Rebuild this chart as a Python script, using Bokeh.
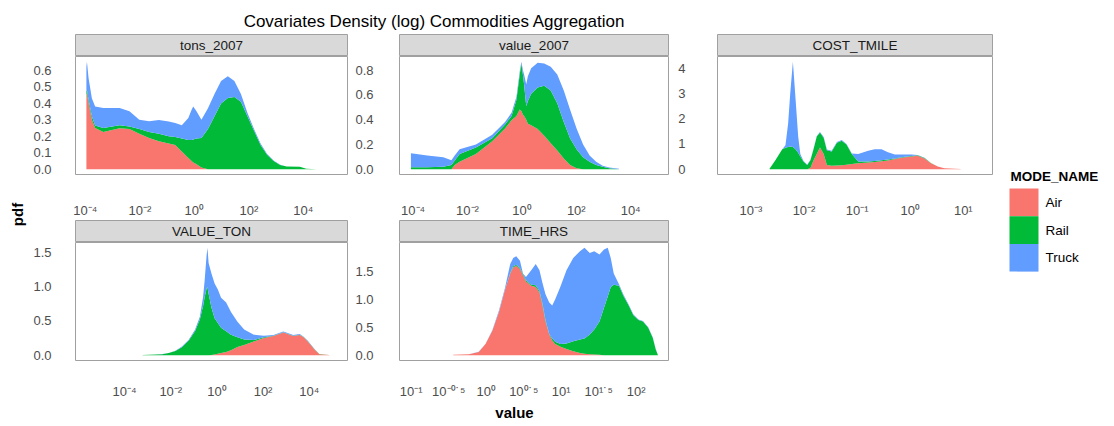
import math
from bokeh.plotting import figure
from bokeh.models import ColumnDataSource, Range1d, FixedTicker, PrintfTickFormatter, Label, Spacer
from bokeh.layouts import row, column
from bokeh.embed import file_html
from bokeh.resources import INLINE
from bokeh.core.properties import value

# ---------------- data (x in log10 units, y = density per mode, stacked) ----------------
MODES = ["Air", "Rail", "Truck"]
COLORS = ["#F8766D", "#00BA38", "#619CFF"]
TITLE = "Covariates Density (log) Commodities Aggregation"
FACETS = ["tons_2007", "value_2007", "COST_TMILE", "VALUE_TON", "TIME_HRS"]

tons_x = [-3.96, -3.94, -3.88, -3.76, -3.64, -3.34, -2.74, -2.38, -2.02, -1.66, -1.30, -0.94,
          -0.70, -0.46, -0.22, -0.10, -0.04, 0.08, 0.26, 0.50, 0.74, 0.98, 1.23, 1.47, 1.71,
          1.95, 2.19, 2.43, 2.67, 2.91, 3.15, 3.39, 3.87, 4.11, 4.50]
tons_air = [0.456, 0.456, 0.40, 0.30, 0.25, 0.225, 0.247, 0.243, 0.214, 0.188, 0.169, 0.155,
            0.146, 0.107, 0.068, 0.05, 0.04, 0.029, 0.01, 0, 0, 0, 0, 0, 0,
            0, 0, 0, 0, 0, 0, 0, 0, 0, 0]
tons_rail = [0.014, 0.024, 0.02, 0.02, 0.015, 0.025, 0.019, 0.015, 0.029, 0.037, 0.045, 0.045,
             0.049, 0.078, 0.109, 0.126, 0.14, 0.156, 0.178, 0.243, 0.32, 0.398, 0.431, 0.437, 0.408,
             0.32, 0.233, 0.146, 0.087, 0.049, 0.025, 0.016, 0.014, 0.003, 0]
tons_truck = [0.15, 0.17, 0.13, 0.11, 0.115, 0.12, 0.104, 0.092, 0.057, 0.065, 0.083, 0.088,
              0.085, 0.081, 0.133, 0.184, 0.199, 0.165, 0.112, 0.126, 0.136, 0.136, 0.132, 0.097, 0.048,
              0.02, 0.01, 0.009, 0.004, 0.003, 0.001, 0, 0, 0, 0]

val_x = [-4.08, -3.48, -2.89, -2.59, -2.47, -2.29, -1.69, -1.09, -0.62, -0.38, -0.20, -0.08,
         -0.02, 0.04, 0.08, 0.16, 0.22, 0.34, 0.58, 0.82, 1.06, 1.30, 1.54, 1.77, 2.01, 2.25,
         2.49, 2.73, 2.97, 3.21, 3.57]
val_air = [0, 0, 0, 0, 0.033, 0.059, 0.123, 0.226, 0.328, 0.395, 0.43, 0.482,
           0.47, 0.44, 0.43, 0.40, 0.367, 0.355, 0.325, 0.27, 0.21, 0.15, 0.085, 0.033, 0.008, 0,
           0, 0, 0, 0, 0]
val_rail = [0.015, 0.015, 0.02, 0.033, 0.037, 0.064, 0.051, 0.024, 0.032, 0.035, 0.13, 0.282,
            0.384, 0.32, 0.257, 0.108, 0.183, 0.255, 0.335, 0.404, 0.426, 0.383, 0.295, 0.217, 0.152, 0.097,
            0.059, 0.033, 0.02, 0.008, 0]
val_truck = [0.113, 0.095, 0.077, 0.039, 0.04, 0.037, 0.026, 0.027, 0.02, 0.026, 0.025, 0.026,
             0.013, 0.04, 0.077, 0.179, 0.2, 0.205, 0.2, 0.18, 0.192, 0.231, 0.256, 0.232, 0.168, 0.103,
             0.051, 0.026, 0.008, 0.005, 0.003]

cost_x = [-2.65, -2.54, -2.41, -2.35, -2.30, -2.26, -2.21, -2.16, -2.11, -2.07, -2.01, -1.94,
          -1.88, -1.82, -1.76, -1.70, -1.63, -1.57, -1.48, -1.38, -1.29, -1.20, -1.10, -0.98,
          -0.79, -0.67, -0.54, -0.42, -0.29, -0.17, 0.02, 0.14, 0.27, 0.39, 0.52, 0.64, 0.95]
cost_air = [0, 0, 0, 0, 0, 0, 0, 0, 0, 0, 0, 0,
            0.05, 0.35, 0.6, 0.86, 0.6, 0.16, 0.13, 0.14, 0.15, 0.17, 0.2, 0.23,
            0.26, 0.28, 0.31, 0.34, 0.4, 0.45, 0.5, 0.53, 0.42, 0.23, 0.1, 0.04, 0.01]
cost_rail = [0.02, 0.35, 0.79, 0.85, 0.88, 0.9, 0.88, 0.79, 0.65, 0.5, 0.3, 0.16,
             0.30, 0.45, 0.70, 0.59, 0.65, 0.59, 0.57, 0.91, 0.98, 0.81, 0.40, 0.07,
             0.04, 0.04, 0.04, 0.04, 0.02, 0.02, 0.02, 0.02, 0.02, 0.01, 0, 0, 0]
cost_truck = [0, 0, 0, 0.10, 0.92, 2.1, 3.38, 2.01, 0.65, 0.10, 0.02, 0.02,
              0.01, 0.02, 0.02, 0.02, 0.03, 0.03, 0.03, 0.03, 0.03, 0.02, 0.02, 0.30,
              0.43, 0.47, 0.44, 0.29, 0.16, 0.11, 0.06, 0.01, 0.01, 0, 0, 0, 0]

vton_x = [-3.22, -2.65, -2.37, -2.09, -1.80, -1.52, -1.23, -0.95, -0.74, -0.60, -0.53, -0.45,
          -0.41, -0.36, -0.24, -0.10, 0.04, 0.18, 0.40, 0.61, 0.89, 1.18, 1.60, 2.03, 2.45,
          2.88, 3.31, 3.59, 3.76, 3.94, 4.23, 4.44, 4.87]
vton_air = [0, 0, 0, 0, 0, 0, 0, 0, 0, 0, 0, 0,
            0, 0, 0.003, 0.01, 0.02, 0.03, 0.047, 0.07, 0.12, 0.15, 0.2, 0.25, 0.28,
            0.33, 0.28, 0.295, 0.26, 0.2, 0.084, 0.014, 0.003]
vton_rail = [0.003, 0.008, 0.014, 0.03, 0.06, 0.117, 0.21, 0.35, 0.52, 0.72, 0.85, 0.97,
             1.0, 0.9, 0.697, 0.53, 0.45, 0.37, 0.303, 0.23, 0.14, 0.08, 0.02, 0.01, 0.005,
             0.005, 0.005, 0.005, 0.005, 0.005, 0.002, 0.001, 0]
vton_truck = [0, 0, 0.001, 0.002, 0.005, 0.008, 0.01, 0.02, 0.04, 0.13, 0.25, 0.48,
              0.57, 0.45, 0.5, 0.51, 0.49, 0.44, 0.42, 0.33, 0.23, 0.145, 0.08, 0.025, 0.01,
              0.01, 0.01, 0.01, 0.005, 0.005, 0.004, 0.001, 0]

time_x = [-0.44, -0.23, -0.10, -0.01, 0.08, 0.17, 0.25, 0.32, 0.36, 0.40, 0.45, 0.49, 0.53,
          0.60, 0.66, 0.71, 0.75, 0.79, 0.84, 0.88, 0.92, 0.99, 1.07, 1.16, 1.25, 1.31, 1.38,
          1.44, 1.51, 1.57, 1.62, 1.66, 1.70, 1.77, 1.83, 1.90, 1.96, 2.03, 2.09, 2.16, 2.22,
          2.26, 2.29]
time_air = [0.005, 0.015, 0.057, 0.2, 0.43, 0.77, 1.17, 1.46, 1.57, 1.6, 1.54, 1.43, 1.32,
            1.24, 1.22, 1.12, 0.89, 0.6, 0.37, 0.26, 0.2, 0.15, 0.11, 0.07, 0.04, 0.025, 0.015,
            0.01, 0.005, 0, 0, 0, 0, 0, 0, 0, 0, 0, 0, 0, 0,
            0, 0]
time_rail = [0, 0, 0, 0, 0, 0, 0, 0.01, 0.02, 0.02, 0.02, 0.02, 0.02,
             0.02, 0.03, 0.03, 0.03, 0.03, 0.01, 0.04, 0.04, 0.05, 0.10, 0.18, 0.24, 0.275, 0.355,
             0.45, 0.595, 0.85, 1.05, 1.22, 1.26, 1.24, 1.06, 0.89, 0.72, 0.63, 0.6, 0.49, 0.31,
             0.1, 0]
time_truck = [0, 0, 0.003, 0, 0.01, 0.03, 0.03, 0.16, 0.15, 0.15, 0.13, 0.01, 0.06,
              0.26, 0.38, 0.37, 0.37, 0.46, 0.56, 0.59, 0.76, 1.03, 1.31, 1.49, 1.58, 1.62, 1.46,
              1.40, 1.2, 1.04, 0.87, 0.52, 0.2, 0.03, 0.02, 0.01, 0.01, 0.01, 0.01, 0.01, 0.01,
              0.01, 0]

# tick positions (log10) and labels
ticks_4 = [-4, -2, 0, 2, 4]
labels_4 = ["10\u207b\u2074", "10\u207b\u00b2", "10\u2070", "10\u00b2", "10\u2074"]
ticks_cost = [-3, -2, -1, 0, 1]
labels_cost = ["10\u207b\u00b3", "10\u207b\u00b2", "10\u207b\u00b9", "10\u2070", "10\u00b9"]
ticks_time = [-1, -0.5, 0, 0.5, 1, 1.5, 2]
labels_time = ["10\u207b\u00b9", "10\u207b\u2070\u02d9\u2075", "10\u2070", "10\u2070\u02d9\u2075",
               "10\u00b9", "10\u00b9\u02d9\u2075", "10\u00b2"]
yt_tons = [0.0, 0.1, 0.2, 0.3, 0.4, 0.5, 0.6]
yt_value = [0.0, 0.2, 0.4, 0.6, 0.8]
yt_cost = [0, 1, 2, 3, 4]
yt_half = [0.0, 0.5, 1.0, 1.5]

# ---------------- styling ----------------
FONT = "Liberation Sans"
BORDER = "#a0a0a0"
TICK_COLOR = "#4d4d4d"
TICK_SIZE = "13px"


def panel(x, air, rail, truck, xr, xticks, xlabels, yticks, yfmt,
          width, lb, rb, height, bb, ystand, xstand):
    src = ColumnDataSource(data=dict(x=x, Air=air, Rail=rail, Truck=truck))
    top = max(a + r + t for a, r, t in zip(air, rail, truck))
    p = figure(width=width, height=height, x_range=Range1d(*xr),
               y_range=Range1d(-0.05 * top, 1.05 * top),
               toolbar_location=None, output_backend="svg", title=None,
               min_border_left=lb, min_border_right=rb, min_border_top=0, min_border_bottom=bb)
    p.varea_stack(stackers=MODES, x="x", color=COLORS, source=src)
    p.xgrid.visible = False
    p.ygrid.visible = False
    p.outline_line_color = BORDER
    p.outline_line_width = 1
    p.background_fill_color = "white"
    p.border_fill_color = "white"
    for ax in (p.xaxis[0], p.yaxis[0]):
        ax.axis_line_color = None
        ax.major_tick_line_color = None
        ax.minor_tick_line_color = None
        ax.major_label_text_font = FONT
        ax.major_label_text_font_size = TICK_SIZE
        ax.major_label_text_color = TICK_COLOR
    p.xaxis.ticker = FixedTicker(ticks=xticks)
    p.xaxis.major_label_overrides = dict(zip(xticks, xlabels))
    p.xaxis.major_label_standoff = xstand
    p.yaxis.ticker = FixedTicker(ticks=yticks)
    p.yaxis.formatter = PrintfTickFormatter(format=yfmt)
    p.yaxis.major_label_standoff = ystand
    return p


def strip(name, width, lb, rb):
    s = figure(width=width, height=22, x_range=Range1d(0, 1), y_range=Range1d(0, 1),
               toolbar_location=None, output_backend="svg", title=None,
               min_border_left=lb, min_border_right=rb, min_border_top=0, min_border_bottom=0,
               x_axis_location=None, y_axis_location=None)
    s.background_fill_color = "#d9d9d9"
    s.border_fill_color = "white"
    s.outline_line_color = BORDER
    s.grid.visible = False
    s.add_layout(Label(x=0.5, y=0.5, text=name, text_align="center", text_baseline="middle",
                       text_font=FONT, text_font_size="13.5px", text_color="#1a1a1a"))
    return s


def canvas(width, height):
    c = figure(width=width, height=height, x_range=Range1d(0, width), y_range=Range1d(0, height),
               toolbar_location=None, output_backend="svg", title=None,
               min_border_left=0, min_border_right=0, min_border_top=0, min_border_bottom=0,
               x_axis_location=None, y_axis_location=None)
    c.outline_line_color = None
    c.grid.visible = False
    c.background_fill_color = "white"
    c.border_fill_color = "white"
    return c


# row 1 panels (height 164: frame 125 + bottom 39), row 2 (height 159: frame 125 + bottom 34)
p1 = panel(tons_x, tons_air, tons_rail, tons_truck, (-4.36, 5.62), ticks_4, labels_4, yt_tons, "%.1f",
           322, 40, 5, 164, 39, 18, 22)
p2 = panel(val_x, val_air, val_rail, val_truck, (-4.50, 5.39), ticks_4, labels_4, yt_value, "%.1f",
           323, 40, 7, 164, 39, 20, 22)
p3 = panel(cost_x, cost_air, cost_rail, cost_truck, (-3.63, 1.55), ticks_cost, labels_cost, yt_cost, "%d",
           322, 40, 5, 164, 39, 26, 22)
p4 = panel(vton_x, vton_air, vton_rail, vton_truck, (-6.13, 5.66), ticks_4, labels_4, yt_half, "%.1f",
           322, 40, 5, 159, 34, 18, 17)
p5 = panel(time_x, time_air, time_rail, time_truck, (-1.156, 2.43), ticks_time, labels_time, yt_half, "%.1f",
           323, 40, 7, 159, 34, 20, 17)

s1 = strip(FACETS[0], 322, 40, 5)
s2 = strip(FACETS[1], 323, 40, 7)
s3 = strip(FACETS[2], 322, 40, 5)
s4 = strip(FACETS[3], 322, 40, 5)
s5 = strip(FACETS[4], 323, 40, 7)

TOTAL_W = 1112

# header with title
header = canvas(TOTAL_W, 34)
header.add_layout(Label(x=434, y=13, text=TITLE, text_align="center", text_baseline="middle",
                        text_font=FONT, text_font_size="17px", text_color="black"))

# y axis title
ylab = canvas(30, 367)
ylab.add_layout(Label(x=17, y=187, text="pdf", angle=math.pi / 2, text_align="center",
                      text_baseline="middle", text_font=FONT, text_font_size="15px",
                      text_font_style="bold", text_color="black"))

# legend
leg = canvas(115, 367)
key_h = 27.7
key_top = 213.0
tops = [key_top - i * key_h for i in range(len(MODES))]
bottoms = [t - key_h for t in tops]
leg.quad(left=[12] * len(MODES), right=[41] * len(MODES), top=tops, bottom=bottoms,
         fill_color=COLORS, line_color=None)
leg.text(x=[48] * len(MODES), y=[(t + b) / 2 for t, b in zip(tops, bottoms)], text=MODES,
         text_font=value(FONT), text_font_size="13.5px", text_baseline="middle", text_color="black")
leg.add_layout(Label(x=13, y=225, text="MODE_NAME", text_align="left", text_baseline="middle",
                     text_font=FONT, text_font_size="13.5px", text_font_style="bold", text_color="black"))

# x axis title
bottom = canvas(TOTAL_W, 24)
bottom.add_layout(Label(x=514, y=13, text="value", text_align="center", text_baseline="middle",
                        text_font=FONT, text_font_size="15px", text_font_style="bold", text_color="black"))

r1 = row(column(s1, p1), column(s2, p2), column(s3, p3))
r2 = row(column(s4, p4), column(s5, p5), Spacer(width=322, height=181))
grid = column(r1, r2)
main = row(ylab, grid, leg)
layout = column(header, main, bottom)

open("out.html", "w").write(file_html(layout, INLINE, title=TITLE))
